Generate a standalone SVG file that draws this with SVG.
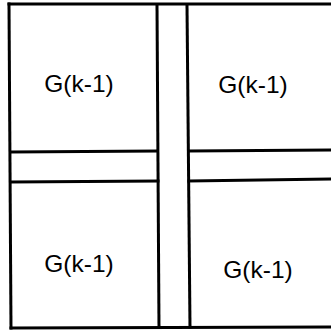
<svg xmlns="http://www.w3.org/2000/svg" width="331" height="332" viewBox="0 0 331 332">
<style>
.ln{stroke:#000;stroke-width:3;fill:none;stroke-linecap:square}
.lb{font-family:"Liberation Sans",Arial,sans-serif;font-size:24.5px;fill:#000;text-anchor:middle}
</style>
<rect width="331" height="332" fill="#fff"/>
<g id="frame">
<line class="ln" x1="9" y1="4" x2="331" y2="4"/>
<line class="ln" x1="9" y1="4" x2="11" y2="328"/>
<line class="ln" x1="11" y1="328" x2="331" y2="327"/>
<line class="ln" x1="157" y1="5" x2="159" y2="327"/>
<line class="ln" x1="187" y1="5" x2="190" y2="327"/>
<line class="ln" x1="11" y1="152" x2="157" y2="151"/>
<line class="ln" x1="11" y1="182" x2="158" y2="181"/>
<line class="ln" x1="189" y1="151" x2="331" y2="150"/>
<line class="ln" x1="189" y1="181" x2="331" y2="179"/>
</g>
<g id="q1"><text class="lb" x="79" y="92">G(k-1)</text></g>
<g id="q2"><text class="lb" x="253" y="93">G(k-1)</text></g>
<g id="q3"><text class="lb" x="79" y="272">G(k-1)</text></g>
<g id="q4"><text class="lb" x="258" y="278">G(k-1)</text></g>
</svg>
